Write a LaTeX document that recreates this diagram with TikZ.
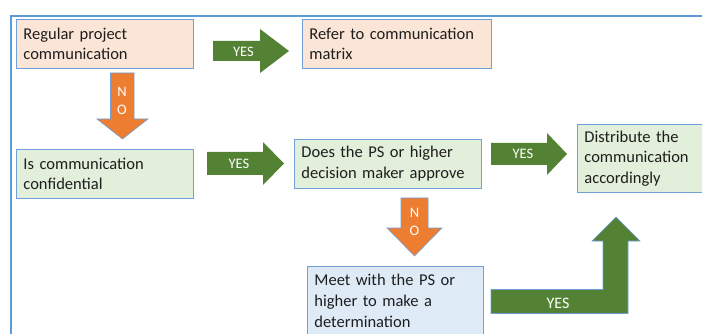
\documentclass[tikz,border=0pt]{standalone}
\usepackage{fontspec}
\setmainfont{Carlito}
\definecolor{peach}{HTML}{FBE5D6}
\definecolor{lgreen}{HTML}{E2EFDA}
\definecolor{lblue}{HTML}{DEEBF7}
\definecolor{edge}{HTML}{6FA0D8}
\definecolor{frame}{HTML}{5B9BD5}
\definecolor{dgreen}{HTML}{548235}
\definecolor{orng}{HTML}{ED7D31}
\definecolor{txt}{HTML}{1E1E1E}
\begin{document}
\begin{tikzpicture}[x=1pt,y=-1pt,
  box/.style={draw=edge, line width=0.9pt, inner xsep=7pt, inner ysep=0pt, align=left,
    anchor=north west, font=\fontsize{16.5}{20.7}\selectfont, text=txt},
  blockarrow/.style={draw=edge, line width=0.6pt},
  lbl/.style={text=white, font=\fontsize{14.5}{15}\selectfont, inner sep=0pt}]
\useasboundingbox (0,0) rectangle (702,334);
% frame
\draw[frame, line width=2pt] (10.5,340) -- (10.5,16) -- (702,16);
% boxes
\node[box, fill=peach, minimum width=177, minimum height=49, text width=163] (b1) at (16,19) {Regular project\\communication};
\node[box, fill=peach, minimum width=189, minimum height=49, text width=175] (b2) at (302,19) {Refer to communication\\matrix};
\node[box, fill=lgreen, minimum width=177, minimum height=49, text width=163] (b3) at (16,149) {Is communication\\confidential};
\node[box, fill=lgreen, minimum width=187, minimum height=49, text width=173] (b4) at (294,139) {Does the PS or higher\\decision maker approve};
\node[box, fill=lgreen, minimum width=140, minimum height=68, text width=126] (b5) at (577,124) {Distribute the\\communication\\accordingly};
\node[box, fill=lblue, minimum width=176, minimum height=69, text width=162] (b6) at (307,266) {Meet with the PS or\\higher to make a\\determination};
% arrows
\fill[dgreen] (213,41) -- (260,41) -- (260,29) -- (289,51) -- (260,73) -- (260,61) -- (213,61) -- cycle;
\node[lbl] (y1) at (243.5,52) {YES};
\filldraw[blockarrow, fill=orng] (110.5,73) -- (134,73) -- (134,119) -- (148,119) -- (122.5,139) -- (97,119) -- (110.5,119) -- cycle;
\node[lbl] (n1) at (122,92) {N};
\node[lbl] (o1) at (122,110) {O};
\fill[dgreen] (207,152) -- (263,152) -- (263,142) -- (284,163.5) -- (263,185) -- (263,175) -- (207,175) -- cycle;
\node[lbl] (y2) at (239,164) {YES};
\fill[dgreen] (491,143) -- (547,143) -- (547,133) -- (567,154) -- (547,175) -- (547,165) -- (491,165) -- cycle;
\node[lbl] (y3) at (523,154) {YES};
\filldraw[blockarrow, fill=orng] (401,198) -- (428,198) -- (428,228) -- (442,228) -- (414.5,256) -- (387,228) -- (401,228) -- cycle;
\node[lbl] (n2) at (414.5,213) {N};
\node[lbl] (o2) at (414.5,231) {O};
\filldraw[blockarrow, fill=dgreen] (491,289.5) -- (603,289.5) -- (603,241) -- (592,241) -- (616,217) -- (640,241) -- (628,241) -- (628,313.5) -- (491,313.5) -- cycle;
\node[lbl, font=\fontsize{16}{16}\selectfont] (y4) at (558,303) {YES};
\end{tikzpicture}
\end{document}
